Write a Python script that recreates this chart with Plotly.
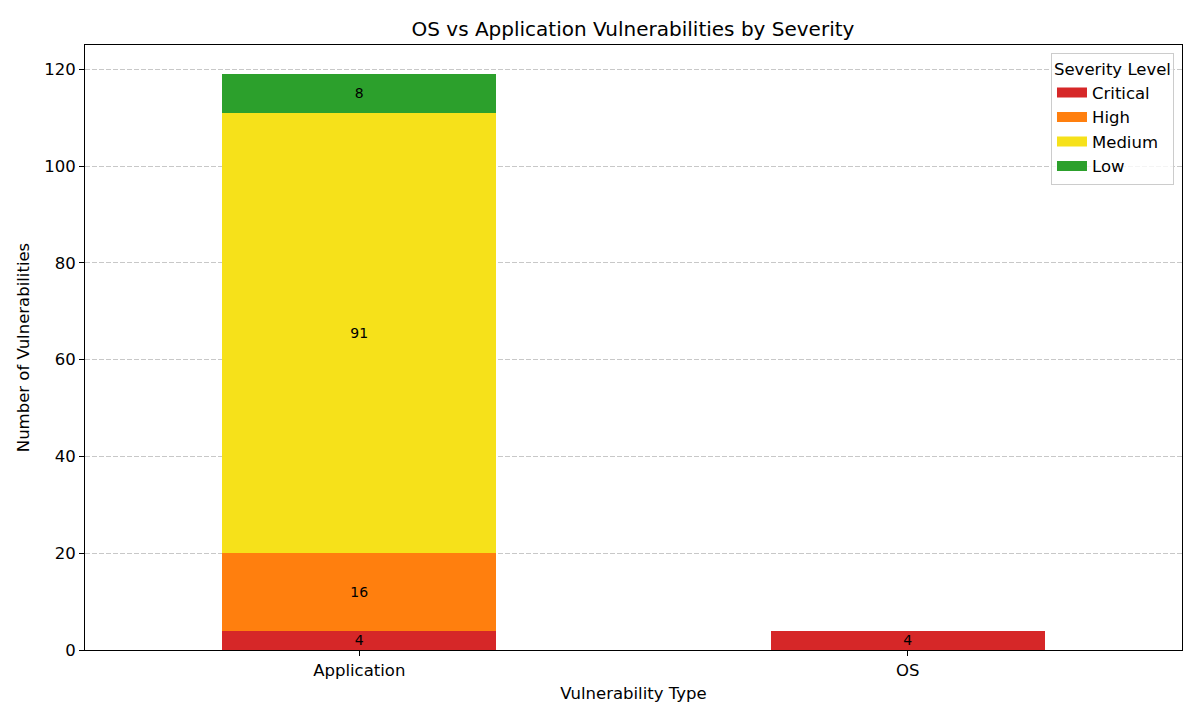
import plotly.graph_objects as go

categories = ["Application", "OS"]
severities = ["Critical", "High", "Medium", "Low"]
critical = [4, 4]
high = [16, 0]
medium = [91, 0]
low = [8, 0]
colors = ["#d62728", "#ff7f0e", "#f6e11a", "#2ca02c"]

series = [critical, high, medium, low]
FONT = "DejaVu Sans"

fig = go.Figure()
for name, vals, col in zip(severities, series, colors):
    fig.add_trace(go.Bar(
        x=categories, y=vals, name=name,
        marker=dict(color=col, line=dict(width=0)),
        width=0.5,
        showlegend=False,
        text=[str(v) if v > 0 else "" for v in vals],
        textposition="inside",
        insidetextanchor="middle",
        textangle=0,
        textfont=dict(color="black", size=14, family=FONT),
    ))

# legend entries drawn as wide colour patches
for name, col in zip(severities, colors):
    fig.add_trace(go.Scatter(
        x=[None], y=[None], mode="lines", name=name,
        line=dict(color=col, width=12), hoverinfo="skip",
    ))

fig.update_layout(
    barmode="stack",
    width=1192, height=712,
    margin=dict(l=77, r=18, t=37, b=70),
    paper_bgcolor="white", plot_bgcolor="white",
    font=dict(family=FONT, color="black", size=16),
    title=dict(text="OS vs Application Vulnerabilities by Severity",
               x=0.5243, xanchor="center", y=0.9705, yanchor="middle",
               font=dict(size=20, family=FONT)),
    uniformtext=dict(minsize=12, mode="show"),
    legend=dict(
        title=dict(text="Severity Level", font=dict(size=16.5)),
        x=0.9927, xanchor="right", y=0.987, yanchor="top",
        bgcolor="rgba(255,255,255,0.8)", bordercolor="#cccccc", borderwidth=1,
        font=dict(size=16.5), traceorder="normal",
    ),
    xaxis=dict(
        title=dict(text="Vulnerability Type", font=dict(size=16.5), standoff=8),
        range=[-0.5, 1.5], showline=True, linecolor="black", linewidth=1,
        mirror=True, ticks="outside", ticklen=5, tickcolor="black",
        showgrid=False, tickfont=dict(size=16.5),
    ),
    yaxis=dict(
        title=dict(text="Number of Vulnerabilities", font=dict(size=16.5), standoff=10),
        range=[0, 125], dtick=20, showline=True, linecolor="black", linewidth=1,
        mirror=True, ticks="outside", ticklen=5, tickcolor="black",
        showgrid=True, gridcolor="rgba(176,176,176,0.7)", griddash="5px,2px",
        gridwidth=1, zeroline=False, tickfont=dict(size=16.5),
        layer="above traces",
    ),
)

fig.write_html("out.html")
